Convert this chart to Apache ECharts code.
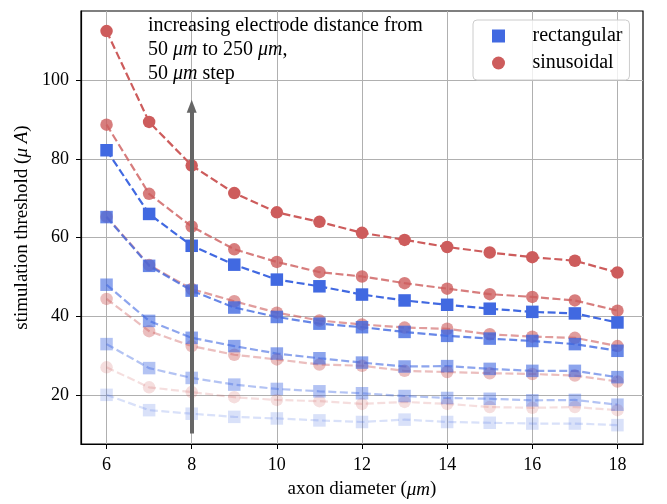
<!DOCTYPE html>
<html>
<head>
<meta charset="utf-8">
<script src="https://cdn.jsdelivr.net/npm/echarts@6/dist/echarts.min.js"></script>
<style>html,body{margin:0;padding:0;background:#fff}#c{width:667px;height:504px}</style>
</head>
<body>
<div id="c"></div>
<script>
// ---- data ----
const xValues = [6, 7, 8, 9, 10, 11, 12, 13, 14, 15, 16, 17, 18];
const distances = [50, 100, 150, 200, 250];
const rect50  = [20.0, 16.1, 15.2, 14.4, 14.0, 13.5, 13.1, 13.7, 13.1, 12.9, 12.7, 12.7, 12.3];
const rect100 = [32.9, 26.8, 24.3, 22.6, 21.5, 20.9, 20.4, 19.7, 19.2, 19.0, 18.6, 18.7, 17.5];
const rect150 = [48.0, 38.8, 34.5, 32.4, 30.5, 29.3, 28.2, 27.2, 27.3, 26.6, 26.1, 26.1, 24.5];
const rect200 = [65.2, 52.8, 46.5, 42.2, 39.8, 38.1, 37.2, 36.0, 35.0, 34.3, 33.7, 32.9, 31.2];
const rect250 = [82.2, 66.0, 57.9, 53.1, 49.3, 47.6, 45.5, 44.0, 42.9, 41.9, 41.1, 40.7, 38.4];
const sin50   = [27.0, 21.9, 20.7, 19.4, 18.7, 18.4, 17.7, 18.2, 17.7, 16.9, 16.7, 16.9, 16.1];
const sin100  = [44.4, 36.2, 32.4, 30.2, 29.0, 27.7, 27.4, 26.1, 25.8, 25.5, 25.3, 24.9, 23.4];
const sin150  = [65.3, 53.0, 46.9, 43.8, 40.9, 38.9, 37.9, 37.1, 36.8, 35.4, 34.8, 34.5, 32.4];
const sin200  = [88.7, 71.1, 62.8, 57.0, 53.8, 51.2, 50.1, 48.4, 47.0, 45.6, 44.9, 44.0, 41.4];
const sin250  = [112.5, 89.4, 78.3, 71.3, 66.4, 64.0, 61.2, 59.4, 57.6, 56.2, 55.0, 54.1, 51.1];
const rectSets = [rect50, rect100, rect150, rect200, rect250];
const sinSets = [sin50, sin100, sin150, sin200, sin250];
const alphas = [0.2, 0.4, 0.6, 0.8, 1.0];
const xTicks = [6, 8, 10, 12, 14, 16, 18];
const yTicks = [20, 40, 60, 80, 100];
const xMin = 5.4, xMax = 18.6, yMin = 7.5, yMax = 117.6;
const arrowX = 8, arrowFrom = 10.2, arrowTo = 93.4;

// ---- chart ----
const FONT = 'Liberation Serif';
const BLUE = '#4169E1', RED = '#CD5C5C';
const pairs = v => xValues.map((x, i) => [x, v[i]]);
const series = [];
for (let k = 0; k < distances.length; k++) {
  series.push({
    name: 'rectangular', type: 'line', data: pairs(rectSets[k]),
    symbol: 'rect', symbolSize: 12.5,
    itemStyle: { color: BLUE, opacity: alphas[k] },
    lineStyle: { color: BLUE, opacity: alphas[k], width: 2.2, type: [8, 3.5] },
    emphasis: { disabled: true }, silent: true
  });
  series.push({
    name: 'sinusoidal', type: 'line', data: pairs(sinSets[k]),
    symbol: 'circle', symbolSize: 12.5,
    itemStyle: { color: RED, opacity: alphas[k] },
    lineStyle: { color: RED, opacity: alphas[k], width: 2.2, type: [8, 3.5] },
    emphasis: { disabled: true }, silent: true
  });
}
series.push({
  type: 'line', data: [], z: 10, silent: true,
  markLine: {
    silent: true, animation: false,
    symbol: ['none', 'triangle'], symbolSize: [10, 13],
    lineStyle: { color: '#666666', width: 4, type: 'solid' },
    label: { show: false },
    data: [[{ coord: [arrowX, arrowFrom] }, { coord: [arrowX, arrowTo] }]]
  }
});

const axisNameStyle = {
  fontFamily: FONT, fontSize: 19, color: '#000',
  rich: { i: { fontFamily: FONT, fontSize: 19, fontStyle: 'italic', color: '#000' } }
};

const option = {
  animation: false,
  grid: { show: true, left: 81, right: 24, top: 11, bottom: 55, borderColor: '#000', borderWidth: 1.2 },
  xAxis: {
    type: 'value', min: xMin, max: xMax,
    axisLine: { show: true, onZero: false, lineStyle: { color: '#000', width: 1.2 } },
    axisTick: { show: true, length: 5, customValues: xTicks, lineStyle: { color: '#000', width: 1 } },
    axisLabel: { customValues: xTicks, fontFamily: FONT, fontSize: 18, color: '#000', margin: 12 },
    splitLine: { show: true, lineStyle: { color: '#b0b0b0', width: 1 } },
    name: 'axon diameter ({i|μm})', nameLocation: 'middle', nameGap: 36,
    nameTextStyle: axisNameStyle
  },
  yAxis: {
    type: 'value', min: yMin, max: yMax,
    axisLine: { show: true, onZero: false, lineStyle: { color: '#000', width: 1.2 } },
    axisTick: { show: true, length: 5, customValues: yTicks, lineStyle: { color: '#000', width: 1 } },
    axisLabel: { customValues: yTicks, fontFamily: FONT, fontSize: 18, color: '#000', margin: 12 },
    splitLine: { show: true, lineStyle: { color: '#b0b0b0', width: 1 } },
    name: 'stimulation threshold ({i|μ A})', nameLocation: 'middle', nameGap: 45,
    nameTextStyle: axisNameStyle
  },
  legend: {
    orient: 'vertical', left: 473, top: 20,
    padding: [6, 7, 7, 19], itemGap: 7,
    itemWidth: 14, itemHeight: 13,
    backgroundColor: 'rgba(255,255,255,0.8)', borderColor: '#cccccc', borderWidth: 1, borderRadius: 4,
    textStyle: { fontFamily: FONT, fontSize: 20, color: '#000', padding: [0, 0, 0, 22] },
    selectedMode: false,
    data: [
      { name: 'rectangular', icon: 'path://M0,0L1,0L1,1L0,1Z', itemStyle: { color: BLUE, opacity: 1 } },
      { name: 'sinusoidal', icon: 'circle', itemStyle: { color: RED, opacity: 1 } }
    ]
  },
  graphic: [{
    type: 'text', left: 148, top: 14, z: 20,
    style: {
      text: 'increasing electrode distance from\n50 {i|μm} to 250 {i|μm},\n50 {i|μm} step',
      fontFamily: FONT, fontSize: 20, lineHeight: 24, fill: '#000',
      rich: { i: { fontFamily: FONT, fontSize: 20, fontStyle: 'italic', lineHeight: 24, fill: '#000' } }
    }
  }],
  series: series
};
const chart = echarts.init(document.getElementById('c'), null, { renderer: 'canvas' });
chart.setOption(option);
</script>
</body>
</html>
